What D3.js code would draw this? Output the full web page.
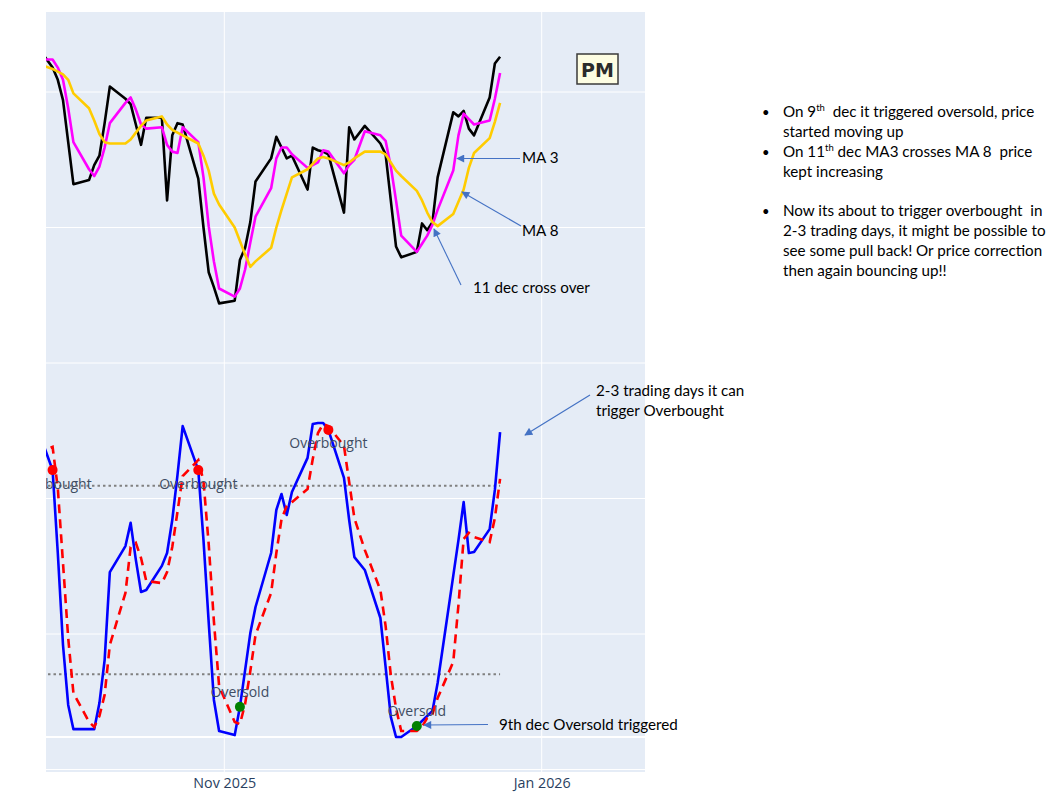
<!DOCTYPE html>
<html>
<head>
<meta charset="utf-8">
<script src="https://cdn.jsdelivr.net/npm/d3@7"></script>
<style>
  html, body { margin: 0; padding: 0; background: #ffffff; }
  svg { display: block; }
  text { white-space: pre; }
</style>
</head>
<body>
<script>
// ---------------- DATA ----------------
const dates = ["2025-09-26","2025-09-29","2025-09-30","2025-10-01","2025-10-02","2025-10-03","2025-10-06","2025-10-07","2025-10-08","2025-10-09","2025-10-10","2025-10-13","2025-10-14","2025-10-15","2025-10-16","2025-10-17","2025-10-20","2025-10-21","2025-10-22","2025-10-23","2025-10-24","2025-10-27","2025-10-28","2025-10-29","2025-10-30","2025-10-31","2025-11-03","2025-11-04","2025-11-05","2025-11-06","2025-11-07","2025-11-10","2025-11-11","2025-11-12","2025-11-13","2025-11-14","2025-11-17","2025-11-18","2025-11-19","2025-11-20","2025-11-21","2025-11-24","2025-11-25","2025-11-26","2025-11-28","2025-12-01","2025-12-02","2025-12-03","2025-12-04","2025-12-05","2025-12-08","2025-12-09","2025-12-10","2025-12-11","2025-12-12","2025-12-15","2025-12-16","2025-12-17","2025-12-18","2025-12-19","2025-12-22","2025-12-23","2025-12-24"];

const closePrice = [163.4,161.8,160.9,159.4,156.3,153.2,153.5,154.6,155.3,157.7,160.4,159.5,159.1,157.6,156.1,158.1,158.1,152.0,156.8,157.7,157.6,153.6,150.0,146.7,145.6,144.4,144.6,147.6,148.5,150.4,153.4,155.1,156.7,155.9,155.1,155.3,152.8,155.9,155.7,155.6,155.4,151.1,157.4,156.5,157.5,156.2,155.4,152.0,148.6,147.8,148.2,150.3,149.8,150.4,153.7,158.5,158.2,158.6,157.3,156.8,159.6,162.1,162.6];

const ma3 = [162.4,162.4,161.8,160.9,158.8,156.3,154.3,153.8,154.5,155.9,157.7,159.2,159.6,158.7,157.6,157.3,157.4,156.1,155.6,155.5,157.4,156.3,153.7,150.1,147.5,145.5,144.9,145.5,146.9,148.9,150.8,152.9,155.1,155.9,155.9,155.4,154.4,154.6,154.8,155.7,155.6,154.0,154.6,155.0,157.1,156.8,156.4,154.5,152.0,149.4,148.2,148.8,149.4,150.2,151.3,154.2,156.8,158.4,158.0,157.6,157.9,159.5,161.4];

const ma8 = [162.1,161.7,161.5,161.3,160.9,159.9,158.8,157.9,156.9,156.3,156.2,156.2,156.5,157.0,157.5,157.9,158.2,157.6,157.2,157.0,156.8,156.2,155.3,154.2,152.5,151.7,150.0,149.0,148.0,147.1,147.5,148.5,150.0,151.3,152.5,153.7,154.3,154.7,155.1,155.2,155.1,154.6,154.8,155.1,155.6,155.6,155.4,154.8,154.2,153.8,152.7,152.0,151.1,150.4,150.1,151.0,151.9,152.8,154.4,155.5,156.6,157.8,159.2];

const stochK = [98.7,85.0,58.6,29.3,10.2,2.5,2.5,2.5,10.8,24.5,52.5,60.8,68.2,56.4,46.2,46.8,54.5,58.6,69.1,83.4,99.0,85.0,62.7,36.6,11.8,1.9,0.6,9.6,21.3,33.1,41.4,58.6,72.3,77.4,70.7,78.0,88.9,99.7,100.0,100.0,97.8,82.5,69.1,57.3,53.2,37.9,22.3,6.4,0,0,3.5,5.1,6.7,8.3,17.2,51.3,62.7,74.8,58.6,58.9,66.2,78.7,97.1];

const stochD = [90.1,92.4,79.3,55.4,31.5,14.0,4.8,3.2,6.7,13.4,29.3,45.9,60.5,61.8,57.0,49.7,49.0,52.5,60.5,71.7,83.1,88.2,81.5,61.5,36.9,16.2,4.8,4.1,10.5,21.0,32.5,45.9,58.6,69.4,73.6,74.8,79.0,88.5,96.8,99.7,99.0,92.7,81.2,69.7,59.6,46.8,35.4,19.7,9.2,1.9,1.9,3.2,6.1,7.3,12.4,23.9,42.0,63.1,65.0,63.7,62.1,69.7,82.2];

const overboughtDates = ["2025-09-29","2025-10-27","2025-11-21"];
const oversoldDates = ["2025-11-04","2025-12-08"];
const overboughtLevel = 80;
const oversoldLevel = 20;

const priceGridValues = [110,120,130,140,150,160];
const xTickDates = ["2025-11-01","2026-01-01"];
const tickerLabel = "PM";

// ---------------- LAYOUT ----------------
const W = 1061, H = 797;
const panel = {x0: 46, x1: 645, y0: 12, y1: 772};

const parse = d3.utcParse("%Y-%m-%d");
const dd = dates.map(parse);

const x = d3.scaleUtc()
  .domain([parse("2025-11-01"), parse("2026-01-01")])
  .range([224.3, 541.7]);
const yP = d3.scaleLinear().domain([140, 160]).range([363, 92]);
const yS = d3.scaleLinear().domain([0, 100]).range([737, 423]);

const svg = d3.select("body").append("svg")
  .attr("width", W).attr("height", H)
  .attr("viewBox", `0 0 ${W} ${H}`);

const defs = svg.append("defs");
defs.append("clipPath").attr("id", "plotclip")
  .append("rect")
  .attr("x", panel.x0).attr("y", panel.y0)
  .attr("width", panel.x1 - panel.x0).attr("height", panel.y1 - panel.y0);
defs.append("marker")
  .attr("id", "ah").attr("viewBox", "0 0 10 10")
  .attr("refX", 9).attr("refY", 5)
  .attr("markerWidth", 10).attr("markerHeight", 8)
  .attr("markerUnits", "userSpaceOnUse")
  .attr("orient", "auto")
  .append("path").attr("d", "M0,0 L10,5 L0,10 z").attr("fill", "#4472C4");

// panel background
svg.append("rect")
  .attr("x", panel.x0).attr("y", panel.y0)
  .attr("width", panel.x1 - panel.x0).attr("height", panel.y1 - panel.y0)
  .attr("fill", "#E5ECF6");

const grid = svg.append("g").attr("clip-path", "url(#plotclip)");
grid.selectAll("line.h").data(priceGridValues).join("line")
  .attr("x1", panel.x0).attr("x2", panel.x1)
  .attr("y1", d => yP(d)).attr("y2", d => yP(d))
  .attr("stroke", "#ffffff").attr("stroke-width", 1);
grid.append("line")
  .attr("x1", panel.x0).attr("x2", panel.x1)
  .attr("y1", yS(0)).attr("y2", yS(0))
  .attr("stroke", "#ffffff").attr("stroke-width", 2);
grid.selectAll("line.v").data(xTickDates.map(parse)).join("line")
  .attr("x1", d => x(d)).attr("x2", d => x(d))
  .attr("y1", panel.y0).attr("y2", panel.y1)
  .attr("stroke", "#ffffff").attr("stroke-width", 1);

// x axis
const xAxis = d3.axisBottom(x)
  .tickValues(xTickDates.map(parse))
  .tickFormat(d3.utcFormat("%b %Y"))
  .tickSize(0).tickPadding(6);
const gx = svg.append("g").attr("transform", `translate(0,${panel.y1})`).call(xAxis);
gx.select(".domain").remove();
gx.selectAll("text")
  .attr("font-family", "'Open Sans', sans-serif")
  .attr("font-size", 14.3).attr("fill", "#2a3f5f");

// ---------------- MARKS ----------------
const plot = svg.append("g").attr("clip-path", "url(#plotclip)");

function mkLine(yScale) {
  return d3.line().x((d, i) => x(dd[i])).y(d => yScale(d));
}

plot.append("path").datum(closePrice).attr("d", mkLine(yP))
  .attr("fill", "none").attr("stroke", "#000000").attr("stroke-width", 2.6)
  .attr("stroke-linejoin", "round");
plot.append("path").datum(ma3).attr("d", mkLine(yP))
  .attr("fill", "none").attr("stroke", "#ff00ff").attr("stroke-width", 2.6)
  .attr("stroke-linejoin", "round");
plot.append("path").datum(ma8).attr("d", mkLine(yP))
  .attr("fill", "none").attr("stroke", "#ffcc00").attr("stroke-width", 2.6)
  .attr("stroke-linejoin", "round");

// overbought / oversold levels
[overboughtLevel, oversoldLevel].forEach(lv => {
  plot.append("line")
    .attr("x1", x(dd[0])).attr("x2", x(dd[dd.length - 1]))
    .attr("y1", yS(lv)).attr("y2", yS(lv))
    .attr("stroke", "#808080").attr("stroke-width", 2)
    .attr("stroke-dasharray", "2.5,3");
});

plot.append("path").datum(stochK).attr("d", mkLine(yS))
  .attr("fill", "none").attr("stroke", "#0000ff").attr("stroke-width", 2.6)
  .attr("stroke-linejoin", "round");
plot.append("path").datum(stochD).attr("d", mkLine(yS))
  .attr("fill", "none").attr("stroke", "#ff0000").attr("stroke-width", 2.6)
  .attr("stroke-dasharray", "9,6");

const kAt = s => stochK[dates.indexOf(s)];

plot.selectAll("circle.ob").data(overboughtDates).join("circle")
  .attr("cx", d => x(parse(d))).attr("cy", d => yS(kAt(d)))
  .attr("r", 5).attr("fill", "#ff0000");
plot.selectAll("circle.os").data(oversoldDates).join("circle")
  .attr("cx", d => x(parse(d))).attr("cy", d => yS(kAt(d)))
  .attr("r", 5).attr("fill", "#008000");

plot.selectAll("text.ob").data(overboughtDates).join("text")
  .attr("x", d => x(parse(d))).attr("y", d => yS(kAt(d)) + 18.5)
  .attr("text-anchor", "middle")
  .attr("font-family", "'Open Sans', sans-serif").attr("font-size", 14)
  .attr("fill", "#3f4d63").text("Overbought");
plot.selectAll("text.os").data(oversoldDates).join("text")
  .attr("x", d => x(parse(d))).attr("y", d => yS(kAt(d)) - 10)
  .attr("text-anchor", "middle")
  .attr("font-family", "'Open Sans', sans-serif").attr("font-size", 14)
  .attr("fill", "#3f4d63").text("Oversold");

// ticker label box
svg.append("rect")
  .attr("x", 577).attr("y", 54).attr("width", 41).attr("height", 30)
  .attr("fill", "#fdfde2").attr("stroke", "#3a3a3a").attr("stroke-width", 1.5);
svg.append("text")
  .attr("x", 597.5).attr("y", 76.5).attr("text-anchor", "middle")
  .attr("font-family", "'DejaVu Sans', sans-serif").attr("font-weight", "bold")
  .attr("font-size", 19).attr("fill", "#2b2b2b").text(tickerLabel);

// ---------------- CALLOUT ANNOTATIONS ----------------
const ann = svg.append("g");
const arrows = [
  [520, 158.5, 457, 158.5],
  [521, 226, 462, 192],
  [461, 285, 434, 229],
  [590, 395, 525, 435],
  [488, 724.5, 424, 725]
];
ann.selectAll("line").data(arrows).join("line")
  .attr("x1", d => d[0]).attr("y1", d => d[1])
  .attr("x2", d => d[2]).attr("y2", d => d[3])
  .attr("stroke", "#4472C4").attr("stroke-width", 1.1)
  .attr("marker-end", "url(#ah)");

const calloutFont = "Lato, 'Noto Sans', sans-serif";
const cfs = 15.2;
const callouts = [
  {x: 522, y: 158, t: "MA 3"},
  {x: 522, y: 231, t: "MA 8"},
  {x: 473, y: 288, t: "11 dec cross over"},
  {x: 596, y: 391, t: "2-3 trading days it can"},
  {x: 596, y: 411, t: "trigger Overbought"},
  {x: 499, y: 725, t: "9th dec Oversold triggered"}
];
ann.selectAll("text.c").data(callouts).join("text")
  .attr("x", d => d.x).attr("y", d => d.y + 5.3)
  .attr("font-family", calloutFont).attr("font-size", cfs)
  .attr("fill", "#000").text(d => d.t);

// right-hand notes
const notes = [
  {y: 112, bullet: true, parts: [["On 9"], ["th", true], ["  dec it triggered oversold, price"]]},
  {y: 132, bullet: false, parts: [["started moving up"]]},
  {y: 152, bullet: true, parts: [["On 11"], ["th", true], [" dec MA3 crosses MA 8  price"]]},
  {y: 172, bullet: false, parts: [["kept increasing"]]},
  {y: 211, bullet: true, parts: [["Now its about to trigger overbought  in"]]},
  {y: 231, bullet: false, parts: [["2-3 trading days, it might be possible to"]]},
  {y: 251, bullet: false, parts: [["see some pull back! Or price correction"]]},
  {y: 271, bullet: false, parts: [["then again bouncing up!!"]]}
];
const ng = svg.append("g").attr("font-family", calloutFont).attr("font-size", cfs).attr("fill", "#000");
notes.forEach(n => {
  if (n.bullet) {
    ng.append("text").attr("x", 762).attr("y", n.y + 5.3).attr("font-size", 13).text("•");
  }
  const t = ng.append("text").attr("x", 783).attr("y", n.y + 5.3);
  n.parts.forEach(p => {
    if (p[1]) {
      t.append("tspan").attr("font-size", 9.5).attr("dy", -6).text(p[0]);
    } else {
      const ts = t.append("tspan").text(p[0]);
      if (t.selectAll("tspan").size() > 1) ts.attr("dy", 6);
    }
  });
});
</script>
</body>
</html>
